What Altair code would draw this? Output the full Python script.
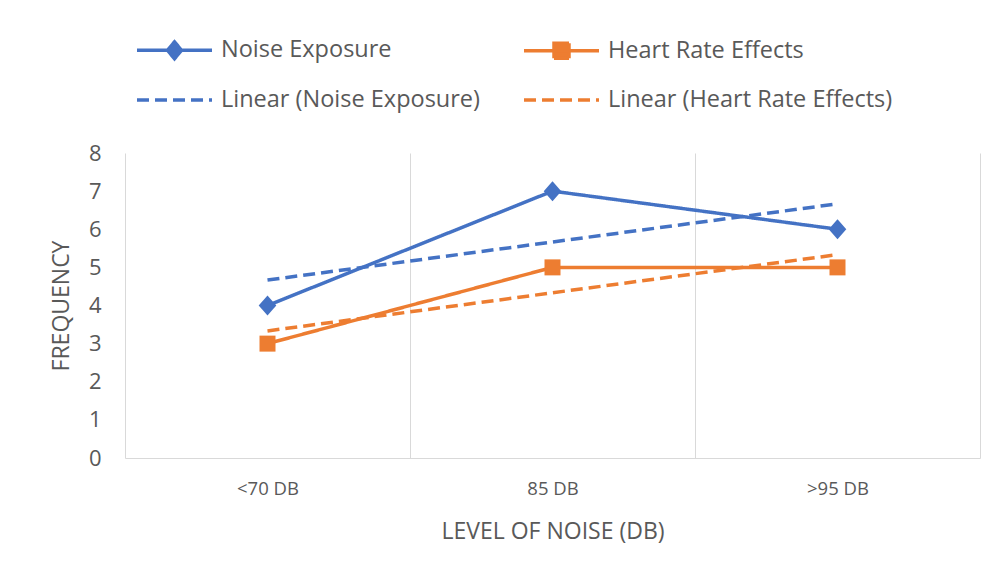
import altair as alt
import pandas as pd
import json

categories = ["<70 DB", "85 DB", ">95 DB"]
noise_exposure = [4, 7, 6]
heart_rate_effects = [3, 5, 5]
series_names = ["Noise Exposure", "Heart Rate Effects"]
trend_names = ["Linear (Noise Exposure)", "Linear (Heart Rate Effects)"]
y_ticks = [0, 1, 2, 3, 4, 5, 6, 7, 8]

BLUE = "#4472C4"
ORANGE = "#ED7D31"
TEXT = "#595959"
GRID = "#D9D9D9"
FONT = "Open Sans"

rows = []
for name, vals in zip(series_names, [noise_exposure, heart_rate_effects]):
    for i, (c, v) in enumerate(zip(categories, vals)):
        rows.append({"category": c, "idx": i + 1, "value": v, "series": name})
df = pd.DataFrame(rows)

# legend is filled column by column: series then its trend line
legend_order = [series_names[0], trend_names[0], series_names[1], trend_names[1]]
color_scale = alt.Scale(domain=legend_order, range=[BLUE, BLUE, ORANGE, ORANGE])
dash_scale = alt.Scale(domain=legend_order, range=[[1, 0], [12, 6], [1, 0], [12, 6]])

line_path = "M-1,0L2.75,0"
diamond_path = line_path + "M0.875,-0.42L1.225,0L0.875,0.42L0.525,0Z"
square_path = line_path + "M0.5,-0.375L1.25,-0.375L1.25,0.375L0.5,0.375Z"
shape_expr = (
    f"datum.value === {json.dumps(series_names[0])} ? '{diamond_path}' : "
    f"datum.value === {json.dumps(series_names[1])} ? '{square_path}' : '{line_path}'"
)

legend = alt.Legend(
    title=None,
    orient="none",
    legendX=10,
    legendY=-125,
    columns=2,
    columnPadding=37,
    rowPadding=12,
    padding=0,
    symbolSize=1600,
    symbolStrokeWidth=3.5,
    symbolType=alt.ExprRef(shape_expr),
    symbolFillColor=alt.ExprRef("scale('color', datum.value)"),
    symbolOpacity=1,
    labelFont=FONT,
    labelFontSize=23.5,
    labelColor=TEXT,
    labelOffset=42,
    labelLimit=400,
)

x_enc = alt.X(
    "category:N",
    sort=categories,
    scale=alt.Scale(domain=categories, paddingInner=0, paddingOuter=0),
    axis=alt.Axis(
        title="LEVEL OF NOISE (DB)",
        tickBand="extent",
        grid=True,
        gridColor=GRID,
        gridWidth=1,
        domainColor=GRID,
        domainWidth=1,
        ticks=False,
        labelAngle=0,
        labelFont=FONT,
        labelFontSize=18.5,
        labelColor=TEXT,
        labelPadding=21,
        titleFont=FONT,
        titleFontSize=23,
        titleFontWeight="normal",
        titleColor=TEXT,
        titlePadding=23,
    ),
)
y_enc = alt.Y(
    "value:Q",
    scale=alt.Scale(domain=[0, 8], nice=False),
    axis=alt.Axis(
        title="FREQUENCY",
        values=y_ticks,
        grid=False,
        domain=False,
        ticks=False,
        labelFont=FONT,
        labelFontSize=22,
        labelColor=TEXT,
        labelPadding=24,
        titleFont=FONT,
        titleFontSize=23,
        titleFontWeight="normal",
        titleColor=TEXT,
        titlePadding=15,
    ),
)

base = alt.Chart(df)

lines = base.mark_line(strokeWidth=3.5).encode(
    x=x_enc,
    y=y_enc,
    color=alt.Color("series:N", scale=color_scale, legend=legend),
    strokeDash=alt.StrokeDash("series:N", scale=dash_scale, legend=legend),
)

points = base.mark_point(filled=True, opacity=1, size=256).encode(
    x=x_enc,
    y=y_enc,
    color=alt.Color("series:N", scale=color_scale, legend=legend),
    shape=alt.Shape(
        "series:N",
        scale=alt.Scale(
            domain=series_names,
            range=["M0,-1.25L1.1,0L0,1.25L-1.1,0Z", "M-1,-1L1,-1L1,1L-1,1Z"],
        ),
        legend=None,
    ),
)

cats_js = json.dumps(categories)
trend = (
    base.transform_regression("idx", "value", groupby=["series"])
    .transform_calculate(
        category=f"{cats_js}[round(datum.idx) - 1]",
        series="'Linear (' + datum.series + ')'",
    )
    .mark_line(strokeWidth=3.5)
    .encode(
        x=x_enc,
        y=y_enc,
        color=alt.Color("series:N", scale=color_scale, legend=legend),
        strokeDash=alt.StrokeDash("series:N", scale=dash_scale, legend=legend),
    )
)

chart = (
    alt.layer(lines, points, trend)
    .properties(
        width=855,
        height=305,
        autosize=alt.AutoSizeParams(type="none"),
        padding={"left": 117, "top": 145, "right": 15, "bottom": 110},
        background="white",
    )
    .configure_view(stroke=None)
)

chart.save("out.html", embed_options={"renderer": "svg", "actions": False})
